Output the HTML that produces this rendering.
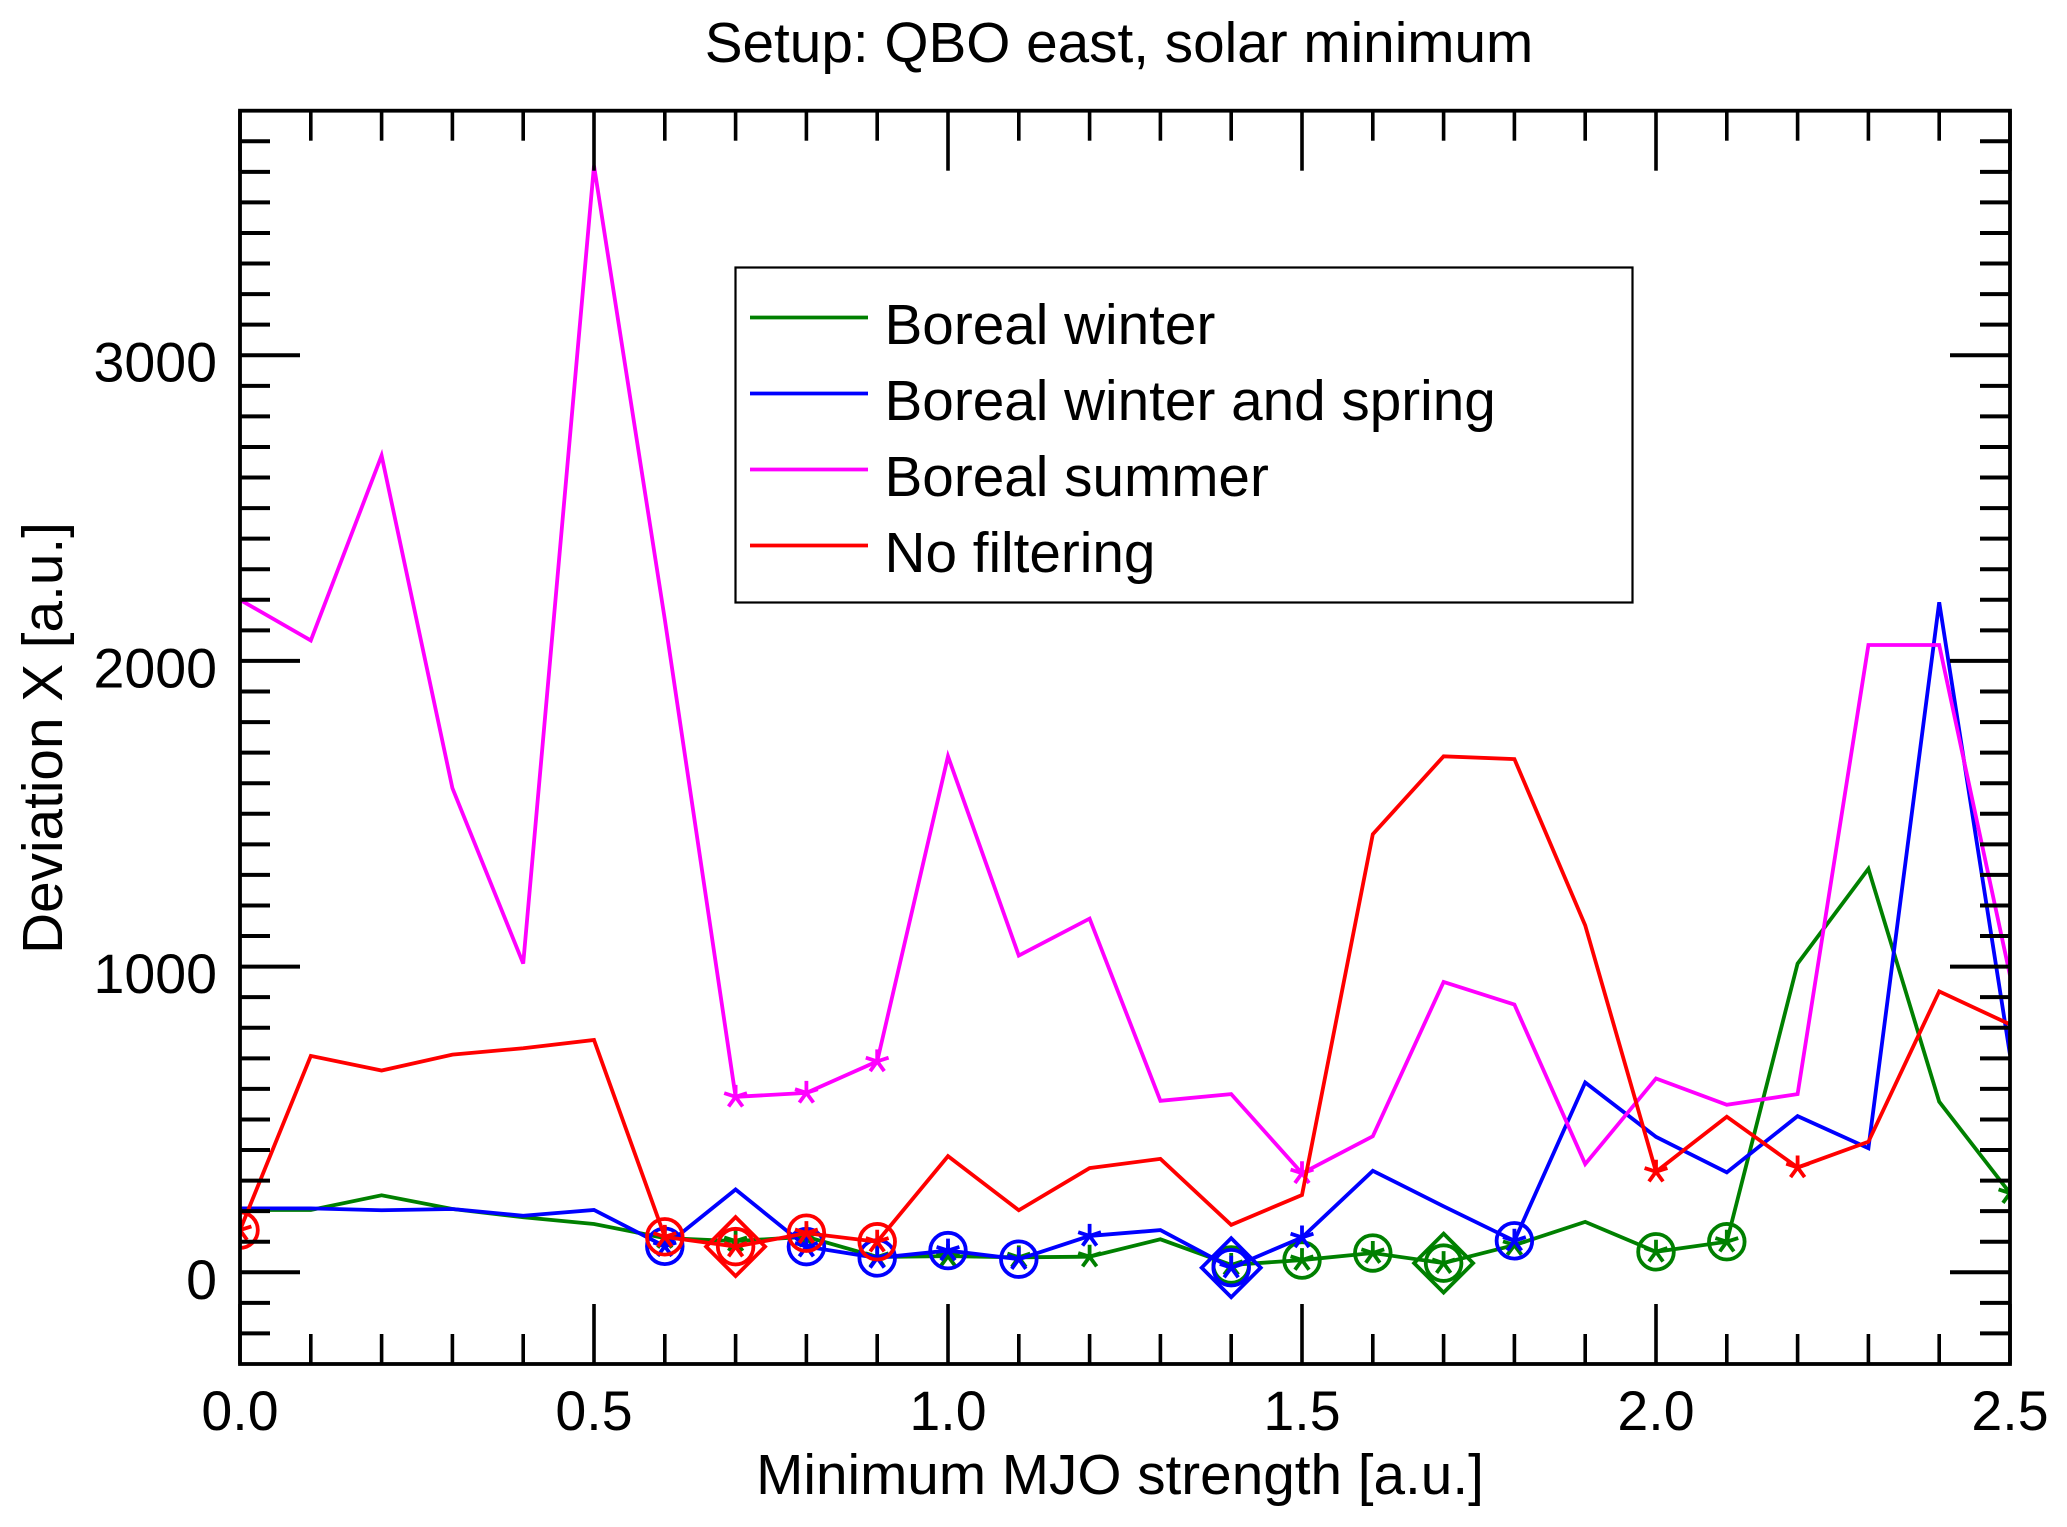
<!DOCTYPE html>
<html lang="en">
<head>
<meta charset="utf-8">
<title>Setup: QBO east, solar minimum</title>
<style>
html,body{margin:0;padding:0;background:#fff;width:2067px;height:1527px;overflow:hidden}
svg{display:block}
text{font-family:"Liberation Sans",Arial,sans-serif;font-size:56.7px;fill:#000}
text.tick{font-size:55.5px}
</style>
</head>
<body>
<svg id="chart" xmlns="http://www.w3.org/2000/svg" width="2067" height="1527" viewBox="0 0 2067 1527">
  <defs>
    <clipPath id="plot-clip"><rect x="240" y="110.7" width="1770" height="1253.3"/></clipPath>
  </defs>
  <rect x="0" y="0" width="2067" height="1527" fill="#fff"/>
  <text x="1119" y="62" text-anchor="middle">Setup: QBO east, solar minimum</text>
  <text x="1120" y="1494" text-anchor="middle">Minimum MJO strength [a.u.]</text>
  <text x="0" y="0" text-anchor="middle" transform="translate(62 738) rotate(-90)">Deviation X [a.u.]</text>
  <g id="series-layer" clip-path="url(#plot-clip)"></g>
  <g id="axes-layer"></g>
  <g>
    <rect x="735.5" y="267.5" width="897" height="335" fill="#fff" stroke="#000" stroke-width="2.2"/>
    <line x1="750" x2="868" y1="317.5" y2="317.5" stroke="#008000" stroke-width="3.8"/>
    <text x="884.5" y="344">Boreal winter</text>
    <line x1="750" x2="868" y1="393.5" y2="393.5" stroke="#0000ff" stroke-width="3.8"/>
    <text x="884.5" y="420">Boreal winter and spring</text>
    <line x1="750" x2="868" y1="469.5" y2="469.5" stroke="#ff00ff" stroke-width="3.8"/>
    <text x="884.5" y="496">Boreal summer</text>
    <line x1="750" x2="868" y1="545.5" y2="545.5" stroke="#ff0000" stroke-width="3.8"/>
    <text x="884.5" y="572">No filtering</text>
  </g>
</svg>
<script>
const categories = [0.0,0.1,0.2,0.3,0.4,0.5,0.6,0.7,0.8,0.9,1.0,1.1,1.2,1.3,1.4,1.5,1.6,1.7,1.8,1.9,2.0,2.1,2.2,2.3,2.4,2.5];
const borealWinter = [204,204,252,207,180,158,112,102,116,50,53,49,51,108,24,40,63,30,89,165,67,100,1010,1320,558,259];
const borealWinterSpring = [209,209,203,207,185,204,85,271,84,47,71,43,119,138,15,114,332,216,103,621,443,327,511,406,2192,712];
const borealSummer = [2200,2067,2672,1584,1010,3620,2136,574,587,690,1688,1036,1157,561,583,324,445,950,876,354,634,548,583,2052,2052,971];
const noFiltering = [138,708,660,712,733,760,116,84,128,100,380,203,341,371,155,253,1433,1688,1679,1135,329,509,343,427,919,811];

const greenStars = [0.6,0.7,0.8,0.9,1.0,1.1,1.2,1.4,1.5,1.6,1.7,1.8,2.0,2.1,2.5];
const greenCircles = [1.4,1.5,1.6,1.7,2.0,2.1];
const greenDiamonds = [1.7];
const blueStars = [0.6,0.8,0.9,1.0,1.1,1.2,1.4,1.5,1.8];
const blueCircles = [0.6,0.8,0.9,1.0,1.1,1.4,1.8];
const blueDiamonds = [1.4];
const magentaStars = [0.7,0.8,0.9,1.5];
const magentaCircles = [];
const magentaDiamonds = [];
const redStars = [0.0,0.6,0.7,0.8,0.9,2.0,2.2];
const redCircles = [0.0,0.6,0.7,0.8,0.9];
const redDiamonds = [0.7];

const xMajorTicks = [0.0,0.5,1.0,1.5,2.0,2.5];
const xMinorTicks = [0.1,0.2,0.3,0.4,0.6,0.7,0.8,0.9,1.1,1.2,1.3,1.4,1.6,1.7,1.8,1.9,2.1,2.2,2.3,2.4];
const xTickLabels = ['0.0','0.5','1.0','1.5','2.0','2.5'];
const yMajorTicks = [0,1000,2000,3000];
const yMinorTicks = [-200,-100,100,200,300,400,500,600,700,800,900,1100,1200,1300,1400,1500,1600,1700,1800,1900,2100,2200,2300,2400,2500,2600,2700,2800,2900,3100,3200,3300,3400,3500,3600,3700];
const yTickLabels = ['0','1000','2000','3000'];

const X_MIN = 0, X_MAX = 2.5, Y_MIN = -300, Y_MAX = 3800;
const LEFT = 240, RIGHT = 2010, TOP = 110.7, BOTTOM = 1364;
function xScale(v){ return LEFT + (v - X_MIN) / (X_MAX - X_MIN) * (RIGHT - LEFT); }
function yScale(v){ return BOTTOM - (v - Y_MIN) / (Y_MAX - Y_MIN) * (BOTTOM - TOP); }

const NS = 'http://www.w3.org/2000/svg';
function make(tag, attrs, parent){
  const el = document.createElementNS(NS, tag);
  for (const k in attrs) el.setAttribute(k, attrs[k]);
  parent.appendChild(el);
  return el;
}
const axes = document.getElementById('axes-layer');
const seriesLayer = document.getElementById('series-layer');

function indexOfX(x){ return categories.findIndex(function(c){ return Math.abs(c - x) < 1e-6; }); }

function drawStar(parent, cx, cy, color, slug){
  const r = 12;
  let d = '';
  for (let i = 0; i < 5; i++){
    const a = (i * 72 - 90) * Math.PI / 180;
    d += 'M' + cx + ' ' + cy + 'L' + (cx + r * Math.cos(a)).toFixed(2) + ' ' + (cy + r * Math.sin(a)).toFixed(2);
  }
  const el = make('path', {d: d, fill: 'none', stroke: color, 'stroke-width': 3.8}, parent);
  
  
}
function drawCircle(parent, cx, cy, color, slug){
  const el = make('circle', {cx: cx, cy: cy, r: 17.8, fill: 'none', stroke: color, 'stroke-width': 3.8}, parent);
  
  
}
function drawDiamond(parent, cx, cy, color, slug){
  const r = 29.5;
  const el = make('path', {d: 'M' + cx + ' ' + (cy - r) + 'L' + (cx + r) + ' ' + cy + 'L' + cx + ' ' + (cy + r) + 'L' + (cx - r) + ' ' + cy + 'Z', fill: 'none', stroke: color, 'stroke-width': 3.8}, parent);
  
  
}

function drawSeries(values, color, slug, stars, circles, diamonds){
  const g = make('g', {}, seriesLayer);
  
  
  const pts = values.map(function(v, i){ return xScale(categories[i]).toFixed(2) + ',' + yScale(v).toFixed(2); }).join(' ');
  const line = make('polyline', {points: pts, fill: 'none', stroke: color, 'stroke-width': 3.8, 'stroke-linejoin': 'miter'}, g);
  
  
  stars.forEach(function(x){ drawStar(g, xScale(x), yScale(values[indexOfX(x)]), color, slug); });
  circles.forEach(function(x){ drawCircle(g, xScale(x), yScale(values[indexOfX(x)]), color, slug); });
  diamonds.forEach(function(x){ drawDiamond(g, xScale(x), yScale(values[indexOfX(x)]), color, slug); });
}
drawSeries(borealWinter, '#008000', 'boreal-winter', greenStars, greenCircles, greenDiamonds);
drawSeries(borealWinterSpring, '#0000ff', 'boreal-winter-and-spring', blueStars, blueCircles, blueDiamonds);
drawSeries(borealSummer, '#ff00ff', 'boreal-summer', magentaStars, magentaCircles, magentaDiamonds);
drawSeries(noFiltering, '#ff0000', 'no-filtering', redStars, redCircles, redDiamonds);

function tickLine(x1, y1, x2, y2, w, name){
  const el = make('line', {x1: x1, y1: y1, x2: x2, y2: y2, stroke: '#000', 'stroke-width': w}, axes);
  
  
}
xMajorTicks.forEach(function(v){
  tickLine(xScale(v), BOTTOM, xScale(v), BOTTOM - 60, 3.6, 'x-major-tick');
  tickLine(xScale(v), TOP, xScale(v), TOP + 60, 3.6, 'x-major-tick-top');
});
xMinorTicks.forEach(function(v){
  tickLine(xScale(v), BOTTOM, xScale(v), BOTTOM - 30, 3.6, 'x-minor-tick');
  tickLine(xScale(v), TOP, xScale(v), TOP + 30, 3.6, 'x-minor-tick-top');
});
yMajorTicks.forEach(function(v){
  tickLine(LEFT, yScale(v), LEFT + 60, yScale(v), 4, 'y-major-tick');
  tickLine(RIGHT, yScale(v), RIGHT - 60, yScale(v), 4, 'y-major-tick-right');
});
yMinorTicks.forEach(function(v){
  tickLine(LEFT, yScale(v), LEFT + 30, yScale(v), 4, 'y-minor-tick');
  tickLine(RIGHT, yScale(v), RIGHT - 30, yScale(v), 4, 'y-minor-tick-right');
});
const frame = make('rect', {x: LEFT, y: TOP, width: RIGHT - LEFT, height: BOTTOM - TOP, fill: 'none', stroke: '#000', 'stroke-width': 3.8}, axes);



xMajorTicks.forEach(function(v, i){
  const t = make('text', {x: xScale(v), y: 1430, 'text-anchor': 'middle', class: 'tick'}, axes);
  t.textContent = xTickLabels[i];
  
  
});
yMajorTicks.forEach(function(v, i){
  const t = make('text', {x: 217, y: yScale(v) + 26.5, 'text-anchor': 'end', class: 'tick'}, axes);
  t.textContent = yTickLabels[i];
  
  
});
</script>
</body>
</html>
